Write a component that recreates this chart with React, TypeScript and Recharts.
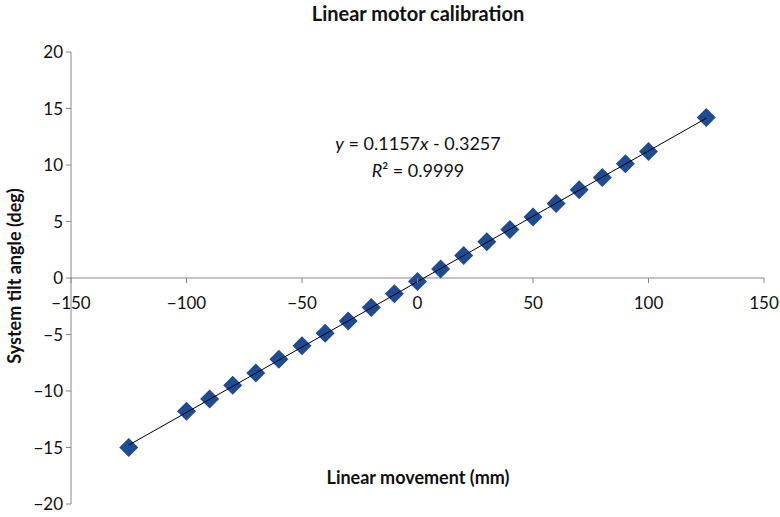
import { ScatterChart, Scatter, XAxis, YAxis, ReferenceLine } from 'recharts';

const movement = [-125, -100, -90, -80, -70, -60, -50, -40, -30, -20, -10, 0, 10, 20, 30, 40, 50, 60, 70, 80, 90, 100, 125];
const tiltAngle = [-15.0, -11.8, -10.7, -9.5, -8.4, -7.2, -6.0, -4.9, -3.8, -2.6, -1.4, -0.3, 0.8, 2.0, 3.2, 4.3, 5.4, 6.6, 7.8, 8.9, 10.1, 11.2, 14.2];

const xTicks = [-150, -100, -50, 0, 50, 100, 150];
const yTicks = [-20, -15, -10, -5, 0, 5, 10, 15, 20];

// linear fit as printed on the chart
const slope = 0.1157;
const intercept = -0.3257;

const W = 780;
const H = 517;
const margin = { top: 52, right: 16, bottom: 0, left: 0 };
const yAxisWidth = 71;
const xAxisHeight = 13;
const yMin = -20;
const yMax = 20;
const FONT = 'Lato, "Open Sans", sans-serif';

const points = movement.map((x, i) => ({ x, y: tiltAngle[i] }));
const fitLine = [movement[0], movement[movement.length - 1]].map((x) => ({ x, y: slope * x + intercept }));

// y pixel of the zero line, where Excel draws the horizontal axis
const plotHeight = H - margin.top - margin.bottom - xAxisHeight;
const zeroY = margin.top + (plotHeight * yMax) / (yMax - yMin);

const fmt = (v: number) => (v < 0 ? '\u2212' + Math.abs(v) : String(v));

function XTick(props: any) {
  const { x, payload } = props;
  return (
    <g>
      <line x1={x} x2={x} y1={zeroY} y2={zeroY + 5} stroke="#888" />
      <text x={x} y={zeroY + 31} textAnchor="middle" fontSize={17} fill="#111" fontFamily={FONT}>
        {fmt(payload.value)}
      </text>
    </g>
  );
}

function Diamond(props: any) {
  const { cx, cy } = props;
  const r = 9.5;
  return <path d={`M${cx},${cy - r}L${cx + r},${cy}L${cx},${cy + r}L${cx - r},${cy}Z`} fill="#1D4B95" />;
}

export default function App() {
  return (
    <div style={{ position: 'absolute', left: 0, top: 0, width: W, height: H, background: '#fff' }}>
      <ScatterChart width={W} height={H} margin={margin}>
        <XAxis
          type="number"
          dataKey="x"
          domain={[-150, 150]}
          ticks={xTicks}
          axisLine={false}
          tickLine={false}
          height={xAxisHeight}
          tick={<XTick />}
          interval={0}
        />
        <YAxis
          type="number"
          dataKey="y"
          domain={[yMin, yMax]}
          ticks={yTicks}
          width={yAxisWidth}
          axisLine={{ stroke: '#888' }}
          tickLine={{ stroke: '#888' }}
          tickSize={5}
          tickMargin={3}
          tickFormatter={fmt}
          tick={{ fontSize: 17, fill: '#111', fontFamily: FONT }}
          interval={0}
        />
        <ReferenceLine y={0} stroke="#888" />
        <Scatter data={points} shape={<Diamond />} isAnimationActive={false} />
        <Scatter
          data={fitLine}
          line={{ stroke: '#000', strokeWidth: 1 }}
          shape={() => <g />}
          isAnimationActive={false}
        />
      </ScatterChart>
      <div style={{ position: 'absolute', left: 0, width: 836, top: 1, textAlign: 'center', fontFamily: FONT, fontWeight: 700, fontSize: 20, color: '#111' }}>
        Linear motor calibration
      </div>
      <div style={{ position: 'absolute', left: 0, width: 836, top: 130, textAlign: 'center', fontFamily: FONT, fontSize: 18, color: '#111', lineHeight: '27px' }}>
        <i>y</i> = 0.1157<i>x</i> - 0.3257
        <br />
        <i>R</i>² = 0.9999
      </div>
      <div style={{ position: 'absolute', left: 0, width: 836, top: 466, textAlign: 'center', fontFamily: FONT, fontWeight: 700, fontSize: 18, color: '#111' }}>
        Linear movement (mm)
      </div>
      <div
        style={{
          position: 'absolute',
          left: 14,
          top: 276,
          transform: 'translate(-50%, -50%) rotate(-90deg)',
          whiteSpace: 'nowrap',
          fontFamily: FONT,
          fontWeight: 700,
          fontSize: 18,
          color: '#111',
        }}
      >
        System tilt angle (deg)
      </div>
    </div>
  );
}
